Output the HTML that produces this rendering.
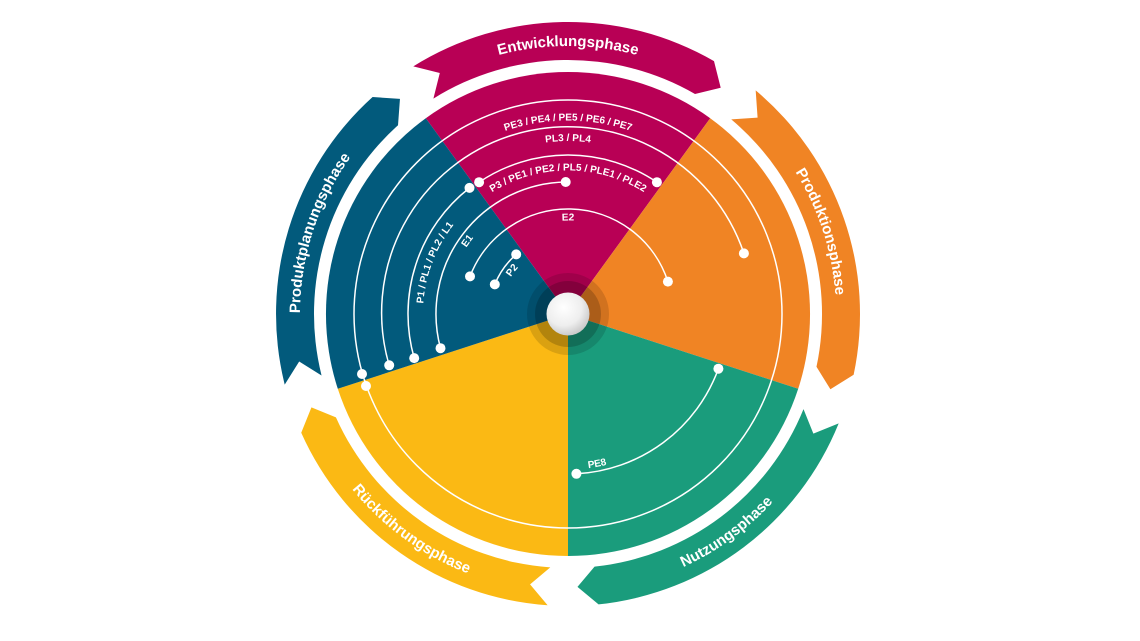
<!DOCTYPE html>
<html><head><meta charset="utf-8"><style>
html,body{margin:0;padding:0;background:#fff;}
svg{display:block;}
text{font-family:"Liberation Sans",sans-serif;font-weight:bold;fill:#fff;}
</style></head><body>
<svg width="1140" height="641" viewBox="0 0 1140 641" xmlns="http://www.w3.org/2000/svg">
<defs>
<path id="arrow" d="M413.3,66.4 A292,292 0 0 1 714,61.1 L720.7,87.7 L695,94.0 A254,254 0 0 0 433.4,98.6 L439.8,73.0 Z"/>
<path id="tTop" d="M434,81.9 A268,268 0 0 1 702,81.9"/>
<path id="tBot" d="M429,554.8 A278,278 0 0 0 707,554.8"/>
<path id="l1" d="M400.4,217.25 A193.5,193.5 0 0 1 735.6,217.25"/>
<path id="l2" d="M418.2,227.5 A173,173 0 0 1 717.8,227.5"/>
<path id="l3" d="M443.7,242.25 A143.5,143.5 0 0 1 692.3,242.25"/>
<path id="l4" d="M487.0,267.25 A93.5,93.5 0 0 1 649.0,267.25"/>
<path id="l5" d="M462.8,253.25 A121.5,121.5 0 0 1 673.2,253.25"/>
<path id="l6" d="M442.4,241.5 A145,145 0 0 1 693.6,241.5"/>
<path id="l7" d="M509.1,280 A68,68 0 0 1 626.9,280"/>
<path id="l8" d="M433.3,391.75 A155.5,155.5 0 0 0 702.7,391.75"/>
<radialGradient id="ball" cx="40%" cy="35%" r="70%">
<stop offset="0" stop-color="#ffffff"/><stop offset="0.6" stop-color="#eeeeee"/><stop offset="1" stop-color="#c4c4c4"/>
</radialGradient>
</defs>

<use href="#arrow" fill="#B80055"/>
<use href="#arrow" fill="#F08424" transform="rotate(72 568 314)"/>
<use href="#arrow" fill="#1A9C7C" transform="rotate(144 568 314)"/>
<use href="#arrow" fill="#FBB914" transform="rotate(216 568 314)"/>
<use href="#arrow" fill="#025A7C" transform="rotate(288 568 314)"/>

<g font-size="15">
<text><textPath href="#tTop" startOffset="50%" text-anchor="middle">Entwicklungsphase</textPath></text>
<g transform="rotate(72 568 314)"><text><textPath href="#tTop" startOffset="50%" text-anchor="middle">Produktionsphase</textPath></text></g>
<g transform="rotate(-72 568 314)"><text><textPath href="#tTop" startOffset="50%" text-anchor="middle">Produktplanungsphase</textPath></text></g>
<g transform="rotate(-36 568 314)"><text><textPath href="#tBot" startOffset="50%" text-anchor="middle">Nutzungsphase</textPath></text></g>
<g transform="rotate(36 568 314)"><text><textPath href="#tBot" startOffset="50%" text-anchor="middle">Rückführungsphase</textPath></text></g>
</g>

<g>
<path d="M568,314 L425.8,118.2 A242,242 0 0 1 710.2,118.2 Z" fill="#B80055"/>
<path d="M568,314 L710.2,118.2 A242,242 0 0 1 798.2,388.8 Z" fill="#F08424"/>
<path d="M568,314 L798.2,388.8 A242,242 0 0 1 568,556 Z" fill="#1A9C7C"/>
<path d="M568,314 L568,556 A242,242 0 0 1 337.8,388.8 Z" fill="#FBB914"/>
<path d="M568,314 L337.8,388.8 A242,242 0 0 1 425.8,118.2 Z" fill="#025A7C"/>
</g>

<circle cx="568" cy="314" r="41" fill="rgba(0,0,0,0.13)"/>
<circle cx="568" cy="314" r="33" fill="rgba(0,0,0,0.18)"/>

<g fill="none" stroke="#fff" stroke-width="1.5">
<circle cx="568" cy="314" r="214"/>
<path d="M389.2,365.3 A186,186 0 0 1 743.9,253.4"/>
<path d="M414.2,358.1 A160,160 0 0 1 469.5,187.9"/>
<path d="M479.1,182.2 A159,159 0 0 1 656.9,182.2"/>
<path d="M440.5,348.2 A132,132 0 0 1 565.7,182.0"/>
<path d="M470,276.4 A105,105 0 0 1 667.9,281.6"/>
<path d="M494.8,284.4 A79,79 0 0 1 516.2,254.4"/>
<path d="M576.4,473.8 A160,160 0 0 0 718.4,368.7"/>
</g>
<g fill="#fff">
<circle cx="362" cy="374" r="5"/><circle cx="366" cy="386" r="5"/>
<circle cx="389.2" cy="365.3" r="5"/><circle cx="743.9" cy="253.4" r="5"/>
<circle cx="414.2" cy="358.1" r="5"/><circle cx="469.5" cy="187.9" r="5"/>
<circle cx="479.1" cy="182.2" r="5"/><circle cx="656.9" cy="182.2" r="5"/>
<circle cx="440.5" cy="348.2" r="5"/><circle cx="565.7" cy="182.0" r="5"/>
<circle cx="470" cy="276.4" r="5"/><circle cx="667.9" cy="281.6" r="5"/>
<circle cx="494.8" cy="284.4" r="5"/><circle cx="516.2" cy="254.4" r="5"/>
<circle cx="576.4" cy="473.8" r="5"/><circle cx="718.4" cy="368.7" r="5"/>
</g>

<g font-size="10">
<text><textPath href="#l1" startOffset="50%" text-anchor="middle">PE3 / PE4 / PE5 / PE6 / PE7</textPath></text>
<text><textPath href="#l2" startOffset="50%" text-anchor="middle">PL3 / PL4</textPath></text>
<text><textPath href="#l3" startOffset="50%" text-anchor="middle">P3 / PE1 / PE2 / PL5 / PLE1 / PLE2</textPath></text>
<text><textPath href="#l4" startOffset="50%" text-anchor="middle">E2</textPath></text>
<g transform="rotate(-54 568 314)"><text><textPath href="#l5" startOffset="50%" text-anchor="middle">E1</textPath></text></g>
<g transform="rotate(-69 568 314)"><text><textPath href="#l6" startOffset="50%" text-anchor="middle">P1 / PL1 / PL2 / L1</textPath></text></g>
<g transform="rotate(-52 568 314)"><text><textPath href="#l7" startOffset="50%" text-anchor="middle">P2</textPath></text></g>
<g transform="rotate(-11 568 314)"><text><textPath href="#l8" startOffset="50%" text-anchor="middle">PE8</textPath></text></g>
</g>

<circle cx="568" cy="314" r="21.5" fill="url(#ball)"/>
</svg>
</body></html>
